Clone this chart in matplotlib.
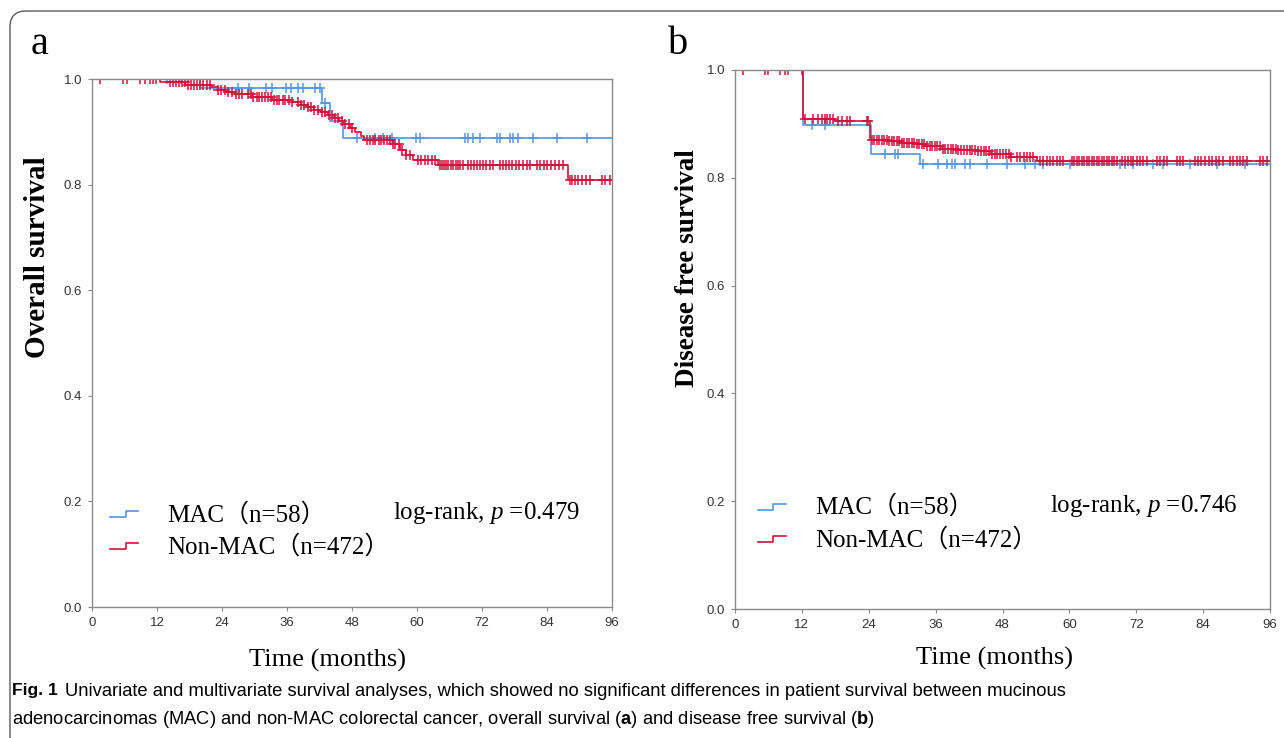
import matplotlib
matplotlib.use('Agg')
import matplotlib.pyplot as plt
import numpy as np
from matplotlib.legend_handler import HandlerBase
from matplotlib.lines import Line2D
from matplotlib.patches import FancyBboxPatch
from matplotlib.transforms import IdentityTransform
from matplotlib.font_manager import FontProperties

plt.rcParams['mathtext.fontset'] = 'custom'
plt.rcParams['mathtext.rm'] = 'Liberation Serif'
plt.rcParams['mathtext.it'] = 'Liberation Serif:italic'
plt.rcParams['mathtext.bf'] = 'Liberation Sans:bold'

# ---------------- data ----------------
x_ticks = [0, 12, 24, 36, 48, 60, 72, 84, 96]
y_ticks = [0.0, 0.2, 0.4, 0.6, 0.8, 1.0]
followup_end = 96

label_mac = "MAC（n=58）"
label_non = "Non-MAC（n=472）"

# Panel a: overall survival
os_mac_times = [20.0, 42.5, 44.0, 46.3]
os_mac_surv = [0.983, 0.955, 0.921, 0.889]
os_mac_cens = [13.8, 16.5, 27.0, 28.9, 32.2, 33.2, 35.9, 36.8, 38.1, 39.0, 41.2, 42.1, 43.0,
               48.9, 52.2, 53.8, 55.3, 59.9, 60.5, 68.9, 69.5, 70.4, 71.6, 74.7, 75.3, 77.1,
               77.8, 78.7, 81.5, 85.8, 91.3]
os_non_times = [12.5, 17.2, 22.0, 23.3, 24.8, 26.4, 29.5, 33.2, 36.9, 38.5, 39.8, 41.0, 42.3,
                43.6, 44.6, 45.6, 46.6, 47.6, 48.6, 49.6, 50.3, 55.5, 56.8, 58.0, 59.2, 63.9, 87.8]
os_non_surv = [0.995, 0.989, 0.984, 0.979, 0.976, 0.972, 0.966, 0.961, 0.956, 0.951, 0.947,
               0.942, 0.937, 0.932, 0.926, 0.920, 0.914, 0.907, 0.899, 0.892, 0.884, 0.876,
               0.866, 0.856, 0.847, 0.838, 0.808]
os_non_cens = [1.5, 5.8, 6.4, 8.9, 9.8, 10.7, 11.3, 11.9,
               14.4, 14.9, 15.5, 16.0, 16.6, 17.1, 17.7, 18.2, 18.8, 19.4, 19.9, 20.5, 21.2, 21.8,
               23.3, 23.9, 24.5, 25.2, 25.8, 26.5, 27.1, 27.7,
               28.8, 29.3, 29.8, 30.4, 30.9, 31.4, 32.0, 32.5, 33.0, 33.6, 34.1, 34.6, 35.2, 35.7,
               36.3, 36.9, 38.0, 38.6, 39.2, 39.8, 40.4, 41.0, 41.7,
               42.5, 43.1, 43.7, 44.3, 44.9, 45.5, 46.1, 46.8, 47.4, 48.0,
               50.8, 51.3, 51.8, 52.3, 52.9, 53.4, 54.0, 54.5, 55.0, 55.6,
               56.0, 56.6, 57.3, 58.0, 58.7,
               60.2, 60.8, 61.5, 62.1, 62.8, 63.4,
               64.2, 64.6, 65.0, 65.4, 65.8, 66.2, 66.7, 67.2, 67.6, 68.0, 68.5,
               69.4, 70.0, 70.6, 71.1, 71.6, 72.2, 72.7, 73.4, 74.0,
               75.3, 75.8, 76.4, 77.0, 77.6, 78.2, 78.8, 79.6, 80.3, 80.9,
               82.2, 82.8, 83.4, 84.0, 84.7, 85.4, 86.2, 87.0,
               88.2, 88.7, 89.2, 89.8, 90.4, 91.2, 91.9, 94.1, 94.8, 95.6]
os_pvalue = "0.479"

# Panel b: disease free survival
dfs_mac_times = [12.2, 24.4, 33.2]
dfs_mac_surv = [0.898, 0.844, 0.826]
dfs_mac_cens = [13.8, 16.1, 26.9, 28.7, 29.2, 33.7, 36.4, 38.0, 38.9, 39.5, 41.3, 42.2, 45.2,
                48.8, 52.0, 53.8, 55.3, 60.1, 69.1, 70.0, 71.4, 75.0, 76.8, 81.6, 86.5, 91.5]
dfs_non_times = [12.2, 18.0, 24.2, 27.5, 30.0, 32.5, 34.1, 37.1, 40.0, 43.6, 46.0, 49.3, 54.2]
dfs_non_surv = [0.910, 0.905, 0.871, 0.868, 0.865, 0.862, 0.859, 0.853, 0.851, 0.849, 0.845,
                0.839, 0.832]
dfs_non_cens = [1.4, 5.4, 5.9, 8.1, 9.0, 9.5, 12.0,
                12.6, 14.0, 14.9, 15.6, 16.1, 16.5, 17.0, 17.6, 18.5, 19.2, 20.1, 20.6, 23.7,
                23.9, 24.6,
                25.0, 25.4, 25.9, 26.3, 26.8, 27.2, 27.7, 28.1, 28.6, 29.0, 29.5, 30.0, 30.4,
                30.9, 31.3, 31.8, 32.2, 32.7, 33.1, 33.6, 34.0, 34.5, 35.0, 35.4, 35.9, 36.3,
                36.8, 37.3, 37.7, 38.2, 38.7, 39.2, 39.6, 40.1, 40.6, 41.1, 41.6, 42.1, 42.6,
                43.1, 43.6, 44.1, 44.6, 45.1, 45.6, 46.1, 46.6, 47.1, 47.6, 48.1, 48.6, 49.1,
                49.6,
                50.6, 51.2, 51.8, 52.4, 53.0, 53.5, 54.7, 55.3, 55.9, 56.5, 57.1, 57.7, 58.3,
                58.9, 60.5, 60.9, 61.3, 61.8, 62.2, 62.6, 63.1, 63.5, 64.0, 64.4, 64.9, 65.3,
                65.8, 66.2, 66.7, 67.1, 67.6, 68.0, 68.5, 69.4, 69.9, 70.5, 71.0, 71.5, 72.1,
                72.7, 73.3, 73.9, 75.7, 76.3, 76.9, 77.5, 79.3, 79.8, 80.4, 82.5, 83.1, 83.7,
                84.3, 85.0, 85.6, 86.3, 86.9, 87.6, 88.8, 89.4, 90.0, 90.6, 91.2, 91.9, 94.2,
                94.8, 95.4]
dfs_pvalue = "0.746"

caption_bold = "Fig. 1"
caption_line1 = ("Univariate and multivariate survival analyses, which showed no significant "
                 "differences in patient survival between mucinous")
caption_line2 = ("adenocarcinomas (MAC) and non-MAC colorectal cancer, overall survival "
                 "($\\mathbf{a}$) and disease free survival ($\\mathbf{b}$)")

# ---------------- style ----------------
BLUE = '#5496e4'
RED = '#d5103c'
SPINE = '#8a8a8a'
W, H = 1284, 738
SERIF_CJK = ['Liberation Serif', 'Noto Sans CJK SC']


def step_xy(times, surv, end):
    x = np.concatenate([[0.0], times, [end]])
    y = np.concatenate([[1.0], surv, [surv[-1]]])
    return x, y


def surv_at(t, times, surv):
    idx = np.searchsorted(np.asarray(times), np.asarray(t), side='right')
    vals = np.concatenate([[1.0], surv])
    return vals[idx]


class StepHandler(HandlerBase):
    def create_artists(self, legend, orig_handle, xdescent, ydescent, width, height,
                       fontsize, trans):
        x0 = -xdescent
        xs = [x0, x0 + 0.55 * width, x0 + 0.55 * width, x0 + width]
        lo = -ydescent + 0.25 * height
        hi = -ydescent + 0.6 * height
        ys = [lo, lo, hi, hi]
        ln = Line2D(xs, ys, color=orig_handle.get_color(), lw=1.2, transform=trans)
        return [ln]


def fig_rect(left, top, right, bottom):
    return [left / W, 1 - bottom / H, (right - left) / W, (bottom - top) / H]


fig = plt.figure(figsize=(W / 100, H / 100), dpi=100)
fig.patch.set_facecolor('white')

# rounded outer frame
frame = FancyBboxPatch((10, -30), 1320, 738 - 11 + 30,
                       boxstyle="round,pad=0,rounding_size=16",
                       transform=IdentityTransform(), fill=False,
                       edgecolor='#5a5a5a', lw=1.0, clip_on=False)
fig.patches.append(frame)


def draw_panel(rect, mac_t, mac_s, mac_c, non_t, non_s, non_c, pval, leg_anchor, p_pos):
    ax = fig.add_axes(rect)
    for (t, s, c, col) in [(mac_t, mac_s, mac_c, BLUE), (non_t, non_s, non_c, RED)]:
        x, y = step_xy(t, s, followup_end)
        ax.step(x, y, where='post', color=col, lw=1.2)
        ax.plot(c, surv_at(c, t, s), linestyle='none', marker='+', color=col,
                markersize=7, mew=1.1)
    ax.set_xlim(0, 96)
    ax.set_ylim(0, 1.0)
    ax.set_xticks(x_ticks)
    ax.set_yticks(y_ticks)
    ax.set_xticklabels([str(v) for v in x_ticks])
    ax.set_yticklabels([f"{v:.1f}" for v in y_ticks])
    for sp in ax.spines.values():
        sp.set_color(SPINE)
        sp.set_linewidth(1.0)
    ax.tick_params(axis='both', length=3, color=SPINE, labelsize=9.5,
                   labelcolor='#333333', pad=4)
    for lab in ax.get_xticklabels() + ax.get_yticklabels():
        lab.set_fontfamily('Liberation Sans')
    handles = [Line2D([], [], color=BLUE), Line2D([], [], color=RED)]
    ax.legend(handles, [label_mac, label_non], loc='upper left',
              bbox_to_anchor=leg_anchor, frameon=False,
              prop=FontProperties(family=SERIF_CJK, size=18),
              handler_map={Line2D: StepHandler()},
              handlelength=1.12, handletextpad=1.15, labelspacing=0.33,
              borderpad=0, borderaxespad=0)
    ax.text(p_pos[0], p_pos[1], "log-rank, $p$ =" + pval, transform=ax.transAxes,
            fontfamily='Liberation Serif', fontsize=18, va='center', ha='left')
    return ax


ax_a = draw_panel(fig_rect(92, 79, 612, 607), os_mac_times, os_mac_surv, os_mac_cens,
                  os_non_times, os_non_surv, os_non_cens, os_pvalue,
                  (0.035, 0.198), (0.579, 0.178))
ax_b = draw_panel(fig_rect(735, 70, 1270, 609), dfs_mac_times, dfs_mac_surv, dfs_mac_cens,
                  dfs_non_times, dfs_non_surv, dfs_non_cens, dfs_pvalue,
                  (0.043, 0.211), (0.589, 0.191))

# axis titles (figure-placed to match reference)
fig.text(38 / W, 1 - 257 / H, "Overall survival", rotation=90, ha='center', va='center',
         fontfamily='Liberation Serif', fontweight='bold', fontsize=21)
fig.text(688 / W, 1 - 268 / H, "Disease free survival", rotation=90, ha='center',
         va='center', fontfamily='Liberation Serif', fontweight='bold', fontsize=19.5)
fig.text(328 / W, 1 - 660 / H, "Time (months)", ha='center', va='center',
         fontfamily='Liberation Serif', fontsize=19)
fig.text(995 / W, 1 - 658 / H, "Time (months)", ha='center', va='center',
         fontfamily='Liberation Serif', fontsize=19)

# panel letters
fig.text(40 / W, 1 - 45 / H, "a", ha='center', va='center', fontfamily='Liberation Serif',
         fontsize=29)
fig.text(678 / W, 1 - 45 / H, "b", ha='center', va='center', fontfamily='Liberation Serif',
         fontsize=29)

# caption
cap_font = 'Liberation Sans'
fig.text(12 / W, 1 - 691 / H, caption_bold, ha='left', va='center', fontfamily=cap_font,
         fontweight='bold', fontsize=12.5)
fig.text(65 / W, 1 - 691 / H, caption_line1, ha='left', va='center', fontfamily=cap_font,
         fontsize=13.2)
fig.text(12 / W, 1 - 720 / H, caption_line2, ha='left', va='center', fontfamily=cap_font,
         fontsize=13.2)

fig.savefig('out.png', dpi=100, facecolor='white')
